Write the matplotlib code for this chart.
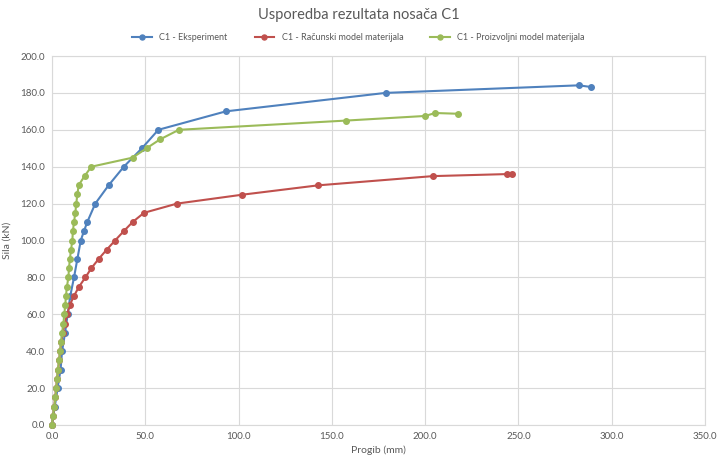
import matplotlib
matplotlib.use("Agg")
import matplotlib.pyplot as plt
from matplotlib.ticker import FormatStrFormatter

plt.rcParams["font.family"] = ["Lato", "DejaVu Sans"]

# C1 - Eksperiment
exp_x = [0.0, 1.5, 3.0, 4.6, 5.4, 7.0, 8.4, 9.8, 11.8, 13.6, 15.4, 17.1, 18.9,
         23.2, 30.4, 38.5, 48.2, 57.0, 93.2, 178.8, 282.4, 288.9]
exp_y = [0, 10, 20, 30, 40, 50, 60, 70, 80, 90, 100, 105, 110,
         120, 130, 140, 150, 160, 170, 180, 184.1, 183.2]

# C1 - Računski model materijala
rac_x = [0.0, 0.6, 1.2, 1.7, 2.2, 2.7, 3.3, 3.8, 4.4, 5.0, 5.8, 6.8, 8.2, 9.5,
         11.8, 14.5, 17.9, 21.1, 25.0, 29.3, 33.8, 38.4, 43.2, 49.3, 67.0,
         101.8, 142.7, 204.2, 244.0, 246.4]
rac_y = [0, 5, 10, 15, 20, 25, 30, 35, 40, 45, 50, 55, 60, 65,
         70, 75, 80, 85, 90, 95, 100, 105, 110, 115, 120,
         124.8, 129.9, 134.9, 136.0, 136.0]

# C1 - Proizvoljni model materijala
pro_x = [0.0, 0.5, 1.25, 1.8, 2.3, 2.7, 3.2, 3.75, 4.3, 4.8, 5.4, 6.1, 6.6, 7.1,
         7.5, 8.0, 8.8, 9.1, 9.6, 10.2, 10.9, 11.2, 11.8, 12.5, 13.0, 13.6, 14.3,
         17.5, 21.1, 43.2, 50.7, 57.9, 68.0, 157.6, 200.0, 205.4, 217.4]
pro_y = [0, 5, 10, 15, 20, 25, 30, 35, 40, 45, 50, 55, 60, 65,
         70, 75, 80, 85, 90, 95, 100, 105, 110, 115, 120, 125, 130,
         135, 140, 144.9, 150, 154.8, 160, 165, 167.5, 169.1, 168.7]

fig = plt.figure(figsize=(7.17, 4.58), dpi=100)
ax = fig.add_axes([52 / 717, 1 - 425 / 458, (705 - 52) / 717, (425 - 56) / 458])

ax.plot(exp_x, exp_y, color="#4F81BD", marker="o", markersize=4, linewidth=1.5,
        label="C1 - Eksperiment", clip_on=False, zorder=3)
ax.plot(rac_x, rac_y, color="#C0504D", marker="o", markersize=4, linewidth=1.5,
        label="C1 - Računski model materijala", clip_on=False, zorder=3)
ax.plot(pro_x, pro_y, color="#9BBB59", marker="o", markersize=4, linewidth=1.5,
        label="C1 - Proizvoljni model materijala", clip_on=False, zorder=3)

ax.set_xlim(0, 350)
ax.set_ylim(0, 200)
ax.set_xticks(range(0, 351, 50))
ax.set_yticks(range(0, 201, 20))
ax.xaxis.set_major_formatter(FormatStrFormatter("%.1f"))
ax.yaxis.set_major_formatter(FormatStrFormatter("%.1f"))
ax.tick_params(length=0, labelsize=7, colors="#595959", pad=5)
ax.grid(True, color="#D9D9D9", linewidth=0.8)
ax.set_axisbelow(True)
for s in ax.spines.values():
    s.set_color("#D9D9D9")

ax.set_xlabel("Progib (mm)", fontsize=7.5, color="#595959", labelpad=3)
ax.set_ylabel("Sila (kN)", fontsize=7.5, color="#595959", labelpad=6)

fig.suptitle("Usporedba rezultata nosača C1", y=1 - 15 / 458, va="center",
             fontsize=10.5, color="#595959")
fig.legend(loc="center", bbox_to_anchor=(0.5, 1 - 38 / 458), ncol=3,
           frameon=False, fontsize=6.5, labelcolor="#595959",
           handlelength=2.2, columnspacing=3, markerscale=0.9)

fig.savefig("out.png", dpi=100, facecolor="white")
